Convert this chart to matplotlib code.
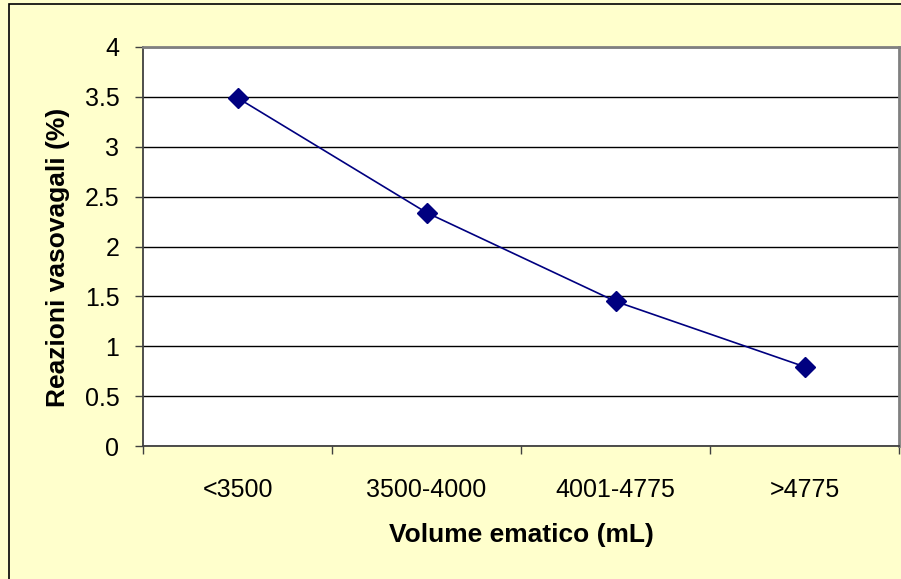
import matplotlib.pyplot as plt
from matplotlib.patches import Rectangle

categories = ["<3500", "3500-4000", "4001-4775", ">4775"]
reazioni = [3.49, 2.34, 1.45, 0.795]
yticks = [0, 0.5, 1, 1.5, 2, 2.5, 3, 3.5, 4]

plt.rcParams['font.family'] = ['Liberation Sans', 'DejaVu Sans']

fig = plt.figure(figsize=(9.01, 5.79), dpi=100, facecolor="#FFFFCC")
ax = fig.add_axes([143 / 901, 133 / 579, 756 / 901, 399 / 579])
ax.set_facecolor("white")

# chart border (Excel-style, cut off on right and bottom)
fig.patches.append(Rectangle((8.5 / 901, -0.1), 1.2, 1 - 4.5 / 579 + 0.1,
                             transform=fig.transFigure, fill=False,
                             edgecolor="black", linewidth=1.2, zorder=0))

x = list(range(len(categories)))
ax.plot(x, reazioni, color="#000080", linewidth=1.2, marker="D",
        markersize=10, markerfacecolor="#000080", markeredgecolor="#000080",
        zorder=3)

ax.set_xlim(-0.5, len(categories) - 0.5)
ax.set_ylim(0, 4)
ax.set_yticks(yticks)
ax.set_yticklabels([f"{v:g}" for v in yticks])
ax.set_xticks(x)
ax.set_xticklabels(categories)
ax.set_xticks([i - 0.5 for i in range(len(categories) + 1)], minor=True)

ax.yaxis.grid(True, color="black", linewidth=1.0)
ax.set_axisbelow(True)

ax.tick_params(axis="y", direction="out", length=6, width=1.0,
               color="#404040", labelsize=18, pad=11)
ax.tick_params(axis="x", which="major", length=0, labelsize=18, pad=23)
ax.tick_params(axis="x", which="minor", direction="out", length=6,
               width=1.0, color="#404040")

for side in ["top", "right"]:
    ax.spines[side].set_color("#808080")
    ax.spines[side].set_linewidth(2)
for side in ["left", "bottom"]:
    ax.spines[side].set_color("#404040")
    ax.spines[side].set_linewidth(1.3)

fig.text(58 / 901, 1 - 257 / 579, "Reazioni vasovagali (%)", rotation=90,
         ha="center", va="center", fontsize=19, fontweight="bold")
fig.text(521 / 901, 1 - 535 / 579, "Volume ematico (mL)",
         ha="center", va="center", fontsize=19, fontweight="bold")

fig.savefig("out.png", dpi=100, facecolor=fig.get_facecolor())
